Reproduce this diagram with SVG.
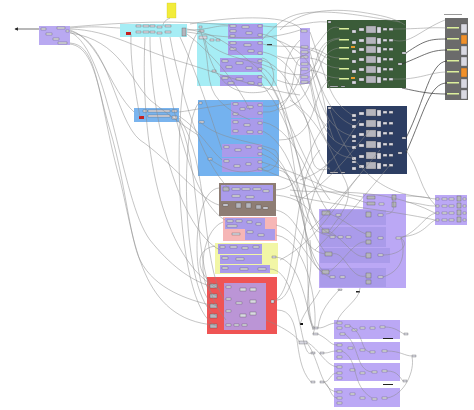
<svg xmlns="http://www.w3.org/2000/svg" width="474" height="410" viewBox="0 0 474 410">
<defs>
<style>
.c{fill:#d9d9e2;stroke:#444;stroke-width:0.3}
.k{fill:#b5b5bd;stroke:#444;stroke-width:0.3}
.w{fill:none;stroke:#8a8a8a;stroke-width:0.5}
.wd{fill:none;stroke:#333;stroke-width:0.7}
.sub{fill:#aa9bea}
.bar{fill:#dcef9c}
</style>
<marker id="ah" viewBox="0 0 6 6" refX="5" refY="3" markerWidth="5" markerHeight="5" orient="auto"><path d="M0,0L6,3L0,6z" fill="#222"/></marker>
</defs>
<rect width="474" height="410" fill="#ffffff"/>

<g id="grp-left"><rect x="39" y="26" width="31" height="19" fill="#b9a9f1"/>
<rect class="c" x="41" y="28" width="5" height="2"/><rect class="c" x="57" y="27" width="8" height="2"/><rect class="c" x="46" y="33" width="6" height="2"/><rect class="c" x="53" y="38" width="6" height="2"/><rect class="c" x="58" y="42" width="9" height="2"/><rect class="c" x="66" y="30" width="3" height="2"/></g>

<g id="grp-cyan-top"><rect x="120" y="24" width="67" height="13" fill="#a6edf5"/>
<rect class="c" x="136" y="25" width="5" height="2"/><rect class="c" x="143" y="25" width="6" height="2"/><rect class="c" x="150" y="25" width="5" height="2"/><rect class="c" x="157" y="26" width="5" height="2"/><rect class="c" x="165" y="25" width="6" height="2"/>
<rect class="c" x="136" y="31" width="5" height="2"/><rect class="c" x="143" y="31" width="6" height="2"/><rect class="c" x="150" y="31" width="5" height="2"/><rect class="c" x="157" y="32" width="5" height="2"/><rect class="c" x="165" y="31" width="6" height="2"/>
<rect class="k" x="182" y="28" width="4" height="8"/><rect x="126" y="32" width="5" height="3" fill="#c42020"/></g>

<g id="note"><rect x="167" y="3" width="9" height="15" fill="#f2ec3a" stroke="#c8c020" stroke-width="0.3"/><path class="w" d="M170,18 C166,20 163,22 163,26"/></g>

<g id="grp-blue-small"><rect x="134" y="108" width="45" height="14" fill="#7ab4ee"/>
<rect class="c" x="143" y="110" width="4" height="2"/><rect class="c" x="148" y="110" width="22" height="2"/><rect class="c" x="148" y="115" width="22" height="2"/><rect class="c" x="172" y="110" width="5" height="2"/><rect class="c" x="172" y="116" width="5" height="3"/><rect x="139" y="116" width="5" height="3" fill="#c42020"/></g>

<g id="grp-cyan-big"><rect x="197" y="23" width="80" height="63" fill="#a6edf5"/>
<rect class="sub" x="228" y="24" width="35" height="15"/><rect class="sub" x="228" y="41" width="35" height="14"/><rect class="sub" x="220" y="58" width="42" height="14"/><rect class="sub" x="220" y="75" width="42" height="11"/>
<rect class="c" x="199" y="26" width="3" height="2"/><rect class="c" x="199" y="30" width="5" height="2"/><rect class="c" x="199" y="36" width="8" height="3"/><rect class="c" x="210" y="39" width="4" height="2"/><rect class="c" x="216" y="39" width="4" height="2"/><rect class="c" x="212" y="70" width="4" height="2"/>
<rect class="c" x="230" y="25" width="6" height="2"/><rect class="c" x="242" y="26" width="7" height="2"/><rect class="c" x="258" y="25" width="4" height="2"/><rect class="c" x="230" y="30" width="6" height="2"/><rect class="c" x="246" y="32" width="6" height="2"/><rect class="c" x="258" y="34" width="4" height="2"/><rect class="c" x="230" y="35" width="5" height="2"/>
<rect class="c" x="230" y="42" width="6" height="2"/><rect class="c" x="244" y="44" width="7" height="2"/><rect class="c" x="258" y="42" width="4" height="2"/><rect class="c" x="230" y="48" width="6" height="2"/><rect class="c" x="248" y="50" width="6" height="2"/><rect class="c" x="258" y="52" width="4" height="2"/>
<rect class="c" x="222" y="60" width="6" height="2"/><rect class="c" x="236" y="62" width="7" height="2"/><rect class="c" x="258" y="60" width="4" height="2"/><rect class="c" x="226" y="66" width="6" height="2"/><rect class="c" x="246" y="67" width="6" height="2"/><rect class="c" x="258" y="68" width="4" height="2"/>
<rect class="c" x="222" y="77" width="6" height="2"/><rect class="c" x="236" y="78" width="7" height="2"/><rect class="c" x="258" y="76" width="4" height="2"/><rect class="c" x="228" y="82" width="6" height="2"/><rect class="c" x="248" y="82" width="6" height="2"/><rect class="c" x="258" y="83" width="4" height="2"/>
<rect x="267" y="44" width="5" height="1.2" fill="#333"/></g>

<g id="col-purple"><rect x="300" y="28" width="10" height="56" fill="#b9a9f1"/>
<rect class="c" x="301" y="30" width="6" height="2"/><rect class="c" x="301" y="46" width="7" height="2"/><rect class="c" x="301" y="51" width="7" height="2"/><rect class="c" x="301" y="56" width="7" height="2"/><rect class="c" x="301" y="63" width="7" height="2"/><rect class="c" x="301" y="68" width="7" height="2"/><rect class="c" x="301" y="76" width="7" height="2"/><rect class="c" x="301" y="81" width="7" height="2"/></g>

<g id="grp-blue-big"><rect x="198" y="100" width="81" height="76" fill="#74b2ef"/>
<rect class="sub" x="231" y="102" width="32" height="16"/><rect class="sub" x="231" y="119" width="32" height="16"/><rect class="sub" x="222" y="144" width="40" height="13"/><rect class="sub" x="222" y="158" width="40" height="14"/>
<rect class="c" x="199" y="102" width="3" height="2"/><rect class="c" x="199" y="121" width="5" height="2"/><rect class="c" x="208" y="158" width="4" height="2"/>
<rect class="c" x="233" y="103" width="5" height="2"/><rect class="c" x="240" y="108" width="5" height="2"/><rect class="c" x="247" y="106" width="6" height="2"/><rect class="c" x="258" y="104" width="4" height="2"/><rect class="c" x="233" y="113" width="5" height="2"/><rect class="c" x="258" y="112" width="4" height="2"/>
<rect class="c" x="233" y="121" width="5" height="2"/><rect class="c" x="244" y="124" width="6" height="2"/><rect class="c" x="258" y="122" width="4" height="2"/><rect class="c" x="233" y="130" width="5" height="2"/><rect class="c" x="247" y="131" width="6" height="2"/><rect class="c" x="258" y="131" width="4" height="2"/>
<rect class="c" x="224" y="146" width="5" height="2"/><rect class="c" x="235" y="149" width="6" height="2"/><rect class="c" x="246" y="146" width="5" height="2"/><rect class="c" x="258" y="147" width="4" height="2"/><rect class="c" x="258" y="153" width="4" height="2"/>
<rect class="c" x="224" y="160" width="5" height="2"/><rect class="c" x="234" y="165" width="6" height="2"/><rect class="c" x="246" y="163" width="5" height="2"/><rect class="c" x="258" y="161" width="4" height="2"/><rect class="c" x="258" y="168" width="4" height="2"/></g>

<g id="grp-brown"><rect x="219" y="183" width="57" height="33" fill="#8e7d74"/>
<rect class="sub" x="221" y="185" width="52" height="16"/>
<rect class="k" x="223" y="187" width="6" height="4"/><rect class="c" x="232" y="188" width="8" height="2"/><rect class="c" x="242" y="188" width="8" height="2"/><rect class="c" x="253" y="188" width="8" height="2"/><rect class="c" x="263" y="190" width="6" height="2"/><rect class="c" x="232" y="195" width="8" height="2"/><rect class="c" x="246" y="196" width="8" height="2"/>
<rect class="k" x="236" y="203" width="5" height="5"/><rect class="k" x="246" y="203" width="5" height="5"/><rect class="k" x="256" y="205" width="5" height="4"/><rect class="c" x="223" y="204" width="5" height="2"/><rect class="c" x="263" y="207" width="5" height="2"/></g>

<g id="grp-pink"><rect x="223" y="217" width="54" height="24" fill="#f6b6b6"/>
<rect class="sub" x="225" y="218" width="40" height="11"/><rect class="sub" x="245" y="229" width="30" height="11"/>
<rect class="c" x="227" y="220" width="6" height="2"/><rect class="c" x="236" y="220" width="6" height="2"/><rect class="c" x="227" y="225" width="10" height="2"/><rect class="c" x="247" y="221" width="5" height="2"/><rect class="c" x="256" y="223" width="5" height="2"/><rect class="c" x="247" y="231" width="6" height="2"/><rect class="c" x="258" y="234" width="6" height="2"/><rect class="c" x="232" y="233" width="8" height="2"/></g>

<g id="grp-yellow"><rect x="215" y="243" width="63" height="31" fill="#f2f6a6"/>
<rect class="sub" x="218" y="244" width="44" height="10"/><rect class="sub" x="220" y="255" width="42" height="9"/><rect class="sub" x="220" y="265" width="50" height="8"/>
<rect class="c" x="220" y="246" width="5" height="2"/><rect class="c" x="230" y="246" width="7" height="2"/><rect class="c" x="242" y="247" width="6" height="2"/><rect class="c" x="253" y="246" width="6" height="2"/><rect class="c" x="222" y="257" width="6" height="2"/><rect class="c" x="236" y="258" width="8" height="2"/><rect class="c" x="222" y="267" width="6" height="2"/><rect class="c" x="240" y="268" width="8" height="2"/><rect class="c" x="258" y="268" width="8" height="2"/><rect class="c" x="272" y="256" width="4" height="2"/></g>

<g id="grp-red"><rect x="207" y="277" width="70" height="57" fill="#ef5454"/>
<rect x="224" y="283" width="42" height="47" fill="#b59ce4" opacity="0.9"/>
<rect class="k" x="210" y="284" width="7" height="4"/><rect class="k" x="210" y="294" width="7" height="4"/><rect class="k" x="210" y="304" width="7" height="4"/><rect class="k" x="210" y="314" width="7" height="4"/><rect class="k" x="210" y="324" width="7" height="4"/>
<rect class="c" x="226" y="286" width="5" height="2"/><rect class="c" x="240" y="288" width="6" height="3"/><rect class="c" x="250" y="288" width="6" height="3"/><rect class="c" x="226" y="298" width="5" height="2"/><rect class="c" x="236" y="302" width="6" height="2"/><rect class="c" x="250" y="300" width="6" height="3"/><rect class="c" x="226" y="310" width="5" height="2"/><rect class="c" x="240" y="314" width="6" height="3"/><rect class="c" x="250" y="312" width="6" height="3"/><rect class="c" x="226" y="324" width="5" height="2"/><rect class="c" x="234" y="324" width="5" height="2"/><rect class="c" x="242" y="324" width="5" height="2"/><rect class="c" x="271" y="300" width="3" height="3"/></g>

<g id="grp-green"><rect x="327" y="20" width="79" height="68" fill="#3b5c39"/>
<rect class="bar" x="339" y="28" width="10" height="1.5"/><rect class="c" x="352" y="30" width="4" height="3"/><rect class="c" x="359" y="28" width="5" height="3"/><rect class="k" x="366" y="26" width="10" height="7"/><rect class="c" x="377" y="27" width="4" height="6"/><rect class="c" x="383" y="28" width="4" height="2.5"/><rect class="c" x="389" y="28" width="4" height="2.5"/>
<rect class="bar" x="339" y="39" width="10" height="1.5"/><rect class="c" x="352" y="41" width="4" height="3"/><rect class="c" x="359" y="39" width="5" height="3"/><rect class="k" x="366" y="37" width="10" height="7"/><rect class="c" x="377" y="38" width="4" height="6"/><rect class="c" x="383" y="39" width="4" height="2.5"/><rect class="c" x="389" y="39" width="4" height="2.5"/>
<rect class="bar" x="339" y="47" width="10" height="1.5"/><rect x="351" y="46" width="4" height="2" fill="#e79a2a"/><rect class="c" x="352" y="50" width="4" height="3"/><rect class="c" x="359" y="48" width="5" height="3"/><rect class="k" x="366" y="46" width="10" height="7"/><rect class="c" x="377" y="47" width="4" height="6"/><rect class="c" x="383" y="48" width="4" height="2.5"/><rect class="c" x="389" y="48" width="4" height="2.5"/>
<rect class="bar" x="339" y="58" width="10" height="1.5"/><rect class="c" x="352" y="60" width="4" height="3"/><rect class="c" x="359" y="58" width="5" height="3"/><rect class="k" x="366" y="56" width="10" height="7"/><rect class="c" x="377" y="57" width="4" height="6"/><rect class="c" x="383" y="58" width="4" height="2.5"/><rect class="c" x="389" y="58" width="4" height="2.5"/>
<rect class="bar" x="339" y="68" width="10" height="1.5"/><rect class="c" x="352" y="70" width="4" height="3"/><rect class="c" x="359" y="68" width="5" height="3"/><rect class="k" x="366" y="66" width="10" height="7"/><rect class="c" x="377" y="67" width="4" height="6"/><rect class="c" x="383" y="68" width="4" height="2.5"/><rect class="c" x="389" y="68" width="4" height="2.5"/>
<rect class="bar" x="339" y="78" width="10" height="1.5"/><rect x="351" y="77" width="4" height="2" fill="#e79a2a"/><rect class="c" x="352" y="81" width="4" height="3"/><rect class="c" x="359" y="78" width="5" height="3"/><rect class="k" x="366" y="76" width="10" height="7"/><rect class="c" x="377" y="77" width="4" height="6"/><rect class="c" x="383" y="78" width="4" height="2.5"/><rect class="c" x="389" y="78" width="4" height="2.5"/>
<rect class="c" x="328" y="21" width="3" height="2"/><rect class="c" x="402" y="52" width="4" height="2"/><rect class="c" x="398" y="63" width="4" height="2"/><rect class="c" x="330" y="86" width="8" height="1"/><rect class="c" x="341" y="86" width="4" height="1"/></g>

<g id="grp-darkblue"><rect x="327" y="106" width="80" height="68" fill="#2d3e63"/>
<rect class="c" x="352" y="114" width="4" height="3"/><rect class="c" x="359" y="112" width="5" height="3"/><rect class="k" x="366" y="109" width="10" height="7"/><rect class="c" x="377" y="110" width="4" height="6"/><rect class="c" x="383" y="111" width="4" height="2.5"/><rect class="c" x="389" y="111" width="4" height="2.5"/>
<rect class="c" x="352" y="125" width="4" height="3"/><rect class="c" x="359" y="123" width="5" height="3"/><rect class="k" x="366" y="120" width="10" height="7"/><rect class="c" x="377" y="121" width="4" height="6"/><rect class="c" x="383" y="122" width="4" height="2.5"/><rect class="c" x="389" y="122" width="4" height="2.5"/>
<rect class="c" x="352" y="135" width="4" height="3"/><rect class="c" x="359" y="133" width="5" height="3"/><rect class="k" x="366" y="130" width="10" height="7"/><rect class="c" x="377" y="131" width="4" height="6"/><rect class="c" x="383" y="132" width="4" height="2.5"/><rect class="c" x="389" y="132" width="4" height="2.5"/>
<rect class="c" x="352" y="146" width="4" height="3"/><rect class="c" x="359" y="144" width="5" height="3"/><rect class="k" x="366" y="141" width="10" height="7"/><rect class="c" x="377" y="142" width="4" height="6"/><rect class="c" x="383" y="143" width="4" height="2.5"/><rect class="c" x="389" y="143" width="4" height="2.5"/>
<rect class="c" x="352" y="157" width="4" height="3"/><rect class="c" x="359" y="155" width="5" height="3"/><rect class="k" x="366" y="152" width="10" height="7"/><rect class="c" x="377" y="153" width="4" height="6"/><rect class="c" x="383" y="154" width="4" height="2.5"/><rect class="c" x="389" y="154" width="4" height="2.5"/>
<rect class="c" x="352" y="167" width="4" height="3"/><rect class="c" x="359" y="165" width="5" height="3"/><rect class="k" x="366" y="162" width="10" height="7"/><rect class="c" x="377" y="163" width="4" height="6"/><rect class="c" x="383" y="164" width="4" height="2.5"/><rect class="c" x="389" y="164" width="4" height="2.5"/>
<rect class="c" x="352" y="119" width="4" height="2"/><rect class="c" x="352" y="140" width="4" height="2"/><rect class="c" x="352" y="161" width="4" height="2"/>
<rect class="c" x="328" y="107" width="3" height="2"/><rect class="c" x="402" y="137" width="4" height="2"/><rect class="c" x="398" y="152" width="4" height="2"/><rect class="c" x="330" y="172" width="8" height="1"/><rect class="c" x="341" y="172" width="4" height="1"/></g>

<g id="panel-gray"><rect x="445" y="18" width="23" height="82" fill="#6b6b6b"/>
<rect x="444" y="14" width="18" height="1" fill="#999"/>
<rect class="bar" x="447" y="27" width="12" height="1.5"/><rect class="c" x="461" y="24" width="6" height="9"/>
<rect class="bar" x="447" y="38" width="12" height="1.5"/><rect x="461" y="35" width="6" height="9" fill="#f0902a" stroke="#444" stroke-width="0.3"/>
<rect class="bar" x="447" y="49" width="12" height="1.5"/><rect class="c" x="461" y="46" width="6" height="9"/>
<rect class="bar" x="447" y="60" width="12" height="1.5"/><rect class="c" x="461" y="57" width="6" height="9"/>
<rect class="bar" x="447" y="71" width="12" height="1.5"/><rect x="461" y="68" width="6" height="9" fill="#f0902a" stroke="#444" stroke-width="0.3"/>
<rect class="bar" x="447" y="82" width="12" height="1.5"/><rect class="c" x="461" y="79" width="6" height="9"/>
<rect class="bar" x="447" y="93" width="12" height="1.5"/><rect class="c" x="461" y="90" width="6" height="9"/></g>

<g id="grp-purple-big"><rect x="319" y="209" width="87" height="79" fill="#bba8f5"/>
<rect class="sub" x="320" y="210" width="66" height="15"/><rect class="sub" x="320" y="227" width="66" height="20"/><rect class="sub" x="320" y="248" width="70" height="15"/><rect class="sub" x="320" y="268" width="66" height="19"/>
<rect class="k" x="322" y="211" width="8" height="4"/><rect class="c" x="336" y="214" width="5" height="2"/><rect class="k" x="366" y="212" width="5" height="5"/><rect class="c" x="378" y="214" width="5" height="2"/>
<rect class="k" x="322" y="229" width="7" height="4"/><rect class="c" x="330" y="236" width="5" height="2"/><rect class="c" x="338" y="236" width="5" height="2"/><rect class="c" x="346" y="236" width="5" height="2"/><rect class="k" x="366" y="232" width="5" height="5"/><rect class="k" x="366" y="240" width="5" height="4"/><rect class="c" x="378" y="237" width="5" height="2"/>
<rect class="k" x="325" y="252" width="7" height="4"/><rect class="k" x="366" y="253" width="5" height="5"/><rect class="c" x="378" y="254" width="5" height="2"/>
<rect class="k" x="322" y="270" width="7" height="4"/><rect class="c" x="330" y="276" width="5" height="2"/><rect class="c" x="340" y="276" width="5" height="2"/><rect class="k" x="366" y="273" width="5" height="5"/><rect class="k" x="366" y="280" width="5" height="4"/><rect class="c" x="378" y="276" width="5" height="2"/>
<rect class="c" x="396" y="237" width="5" height="2"/><rect class="c" x="338" y="289" width="4" height="1.5"/><rect x="356" y="291" width="4" height="1.5" fill="#222"/></g>

<g id="grp-purple-small"><rect x="363" y="194" width="43" height="16" fill="#bba8f5"/>
<rect class="k" x="367" y="196" width="8" height="3"/><rect class="k" x="367" y="202" width="8" height="3"/><rect class="c" x="379" y="203" width="5" height="2"/><rect class="k" x="392" y="195" width="4" height="5"/><rect class="k" x="392" y="202" width="4" height="5"/></g>

<g id="grp-purple-right"><rect x="435" y="195" width="32" height="30" fill="#bba8f5"/>
<rect class="c" x="436" y="198" width="3" height="2"/><rect class="c" x="442" y="198" width="5" height="2"/><rect class="c" x="449" y="198" width="5" height="2"/><rect class="k" x="457" y="196" width="4" height="5"/><rect class="c" x="463" y="198" width="3" height="2"/>
<rect class="c" x="436" y="205" width="3" height="2"/><rect class="c" x="442" y="205" width="5" height="2"/><rect class="c" x="449" y="205" width="5" height="2"/><rect class="k" x="457" y="203" width="4" height="5"/><rect class="c" x="463" y="205" width="3" height="2"/>
<rect class="c" x="436" y="212" width="3" height="2"/><rect class="c" x="442" y="212" width="5" height="2"/><rect class="c" x="449" y="212" width="5" height="2"/><rect class="k" x="457" y="210" width="4" height="5"/><rect class="c" x="463" y="212" width="3" height="2"/>
<rect class="c" x="436" y="219" width="3" height="2"/><rect class="c" x="442" y="219" width="5" height="2"/><rect class="c" x="449" y="219" width="5" height="2"/><rect class="k" x="457" y="217" width="4" height="5"/><rect class="c" x="463" y="219" width="3" height="2"/></g>

<g id="grp-bottom-1"><rect x="334" y="320" width="66" height="19" fill="#bba8f5"/>
<rect class="c" x="337" y="322" width="5" height="2"/><rect class="c" x="337" y="327" width="5" height="2"/><rect class="c" x="345" y="325" width="5" height="2"/><rect class="c" x="352" y="329" width="5" height="2"/><rect class="c" x="360" y="327" width="5" height="2"/><rect class="c" x="370" y="327" width="5" height="2"/><rect class="c" x="380" y="326" width="5" height="2"/><rect class="c" x="340" y="333" width="5" height="2"/></g>
<g id="grp-bottom-2"><rect x="334" y="342" width="66" height="18" fill="#bba8f5"/>
<rect class="c" x="337" y="344" width="5" height="2"/><rect class="c" x="337" y="350" width="5" height="2"/><rect class="c" x="348" y="347" width="5" height="2"/><rect class="c" x="360" y="349" width="5" height="2"/><rect class="c" x="370" y="351" width="5" height="2"/><rect class="c" x="382" y="350" width="5" height="2"/><rect class="c" x="337" y="356" width="5" height="2"/></g>
<g id="grp-bottom-3"><rect x="334" y="363" width="66" height="18" fill="#bba8f5"/>
<rect class="c" x="337" y="366" width="5" height="2"/><rect class="c" x="337" y="372" width="5" height="2"/><rect class="c" x="350" y="369" width="5" height="2"/><rect class="c" x="360" y="372" width="5" height="2"/><rect class="c" x="372" y="371" width="5" height="2"/><rect class="c" x="382" y="370" width="5" height="2"/><rect class="c" x="337" y="377" width="5" height="2"/></g>
<g id="grp-bottom-4"><rect x="334" y="388" width="66" height="19" fill="#bba8f5"/>
<rect class="c" x="337" y="391" width="5" height="2"/><rect class="c" x="337" y="397" width="5" height="2"/><rect class="c" x="350" y="393" width="5" height="2"/><rect class="c" x="360" y="397" width="5" height="2"/><rect class="c" x="372" y="398" width="5" height="2"/><rect class="c" x="382" y="397" width="5" height="2"/><rect class="c" x="337" y="402" width="5" height="2"/></g>

<g id="loose">
<rect x="300" y="323" width="3" height="2" fill="#111"/>
<rect class="c" x="313" y="327" width="5" height="2"/><rect class="c" x="313" y="333" width="5" height="2"/><rect class="c" x="299" y="341" width="8" height="3"/><rect class="c" x="311" y="352" width="4" height="2"/><rect class="c" x="320" y="352" width="4" height="2"/><rect class="c" x="311" y="381" width="4" height="2"/><rect class="c" x="320" y="381" width="4" height="2"/>
<rect class="c" x="404" y="333" width="4" height="2"/><rect class="c" x="412" y="355" width="4" height="2"/><rect class="c" x="403" y="380" width="4" height="2"/><rect x="383" y="338" width="10" height="1" fill="#222"/><rect x="383" y="384" width="10" height="1" fill="#222"/>
</g>

<g id="connectors">
<path class="wd" d="M39,29 L15,29" marker-end="url(#ah)"/>
<path class="w" d="M70,28 C95,26 100,27 120,28"/>
<path class="w" d="M70,29 C110,30 140,50 175,60 C210,70 260,90 300,95"/>
<path class="w" d="M70,30 C100,40 110,90 134,112"/>
<path class="w" d="M70,31 C110,40 115,120 140,140 C170,160 200,200 219,205"/>
<path class="w" d="M70,32 C110,50 120,200 150,240 C170,265 190,280 210,286"/>
<path class="w" d="M70,33 C120,40 130,80 150,100 C175,120 190,130 198,135"/>
<path class="w" d="M70,43 C95,45 95,80 110,130 C125,180 130,240 140,260 C155,290 190,300 210,305"/>
<path class="w" d="M70,44 C100,48 100,110 120,180 C135,240 140,320 215,325"/>
<path class="w" d="M70,27 C130,22 170,20 230,25"/>
<path class="w" d="M131,34 C130,60 135,90 140,117"/>
<path class="w" d="M187,29 C220,35 230,45 260,70 C280,90 300,160 330,200"/>
<path class="w" d="M187,30 C210,30 215,25 228,26"/>
<path class="w" d="M187,32 C240,40 270,40 300,30"/>
<path class="w" d="M187,34 C220,60 240,90 250,110"/>
<path class="w" d="M180,37 C200,80 215,130 222,150"/>
<path class="w" d="M170,37 C180,90 200,160 230,190"/>
<path class="w" d="M160,37 C170,100 190,200 225,220"/>
<path class="w" d="M150,37 C150,120 180,230 220,250"/>
<path class="w" d="M145,37 C140,140 160,260 220,290"/>
<path class="w" d="M179,112 C195,110 200,108 231,104"/>
<path class="w" d="M179,116 C200,130 210,150 222,160"/>
<path class="w" d="M179,118 C210,160 200,260 224,300"/>
<path class="w" d="M179,120 C205,180 190,280 226,320"/>
<path class="w" d="M200,30 C210,50 205,80 215,95 C225,110 240,115 250,120"/>
<path class="w" d="M203,38 C220,60 260,60 275,70"/>
<path class="w" d="M205,40 C215,90 240,95 262,92 C280,90 275,60 262,58"/>
<path class="w" d="M200,122 C220,140 250,140 275,150 C285,160 270,175 262,170"/>
<path class="w" d="M210,159 C230,175 250,175 270,165"/>
<path class="w" d="M263,26 C290,30 310,20 327,22"/>
<path class="w" d="M262,34 C290,40 290,60 300,66"/>
<path class="w" d="M262,44 C290,50 300,40 330,60"/>
<path class="w" d="M263,52 C300,60 300,100 330,130"/>
<path class="w" d="M262,60 C300,70 310,150 330,170"/>
<path class="w" d="M262,68 C290,80 300,200 320,230"/>
<path class="w" d="M262,76 C300,100 290,230 322,270"/>
<path class="w" d="M262,84 C290,120 300,160 310,210"/>
<path class="w" d="M277,40 C330,60 320,110 334,140"/>
<path class="w" d="M277,56 C320,70 320,20 340,28"/>
<path class="w" d="M277,70 C330,90 310,40 340,39"/>
<path class="w" d="M277,80 C330,100 310,50 340,48"/>
<path class="w" d="M310,48 C325,50 325,58 340,58"/>
<path class="w" d="M310,58 C325,60 325,68 340,68"/>
<path class="w" d="M310,70 C325,72 325,78 340,78"/>
<path class="w" d="M310,32 C330,90 330,100 352,115"/>
<path class="w" d="M310,52 C320,90 330,115 352,125"/>
<path class="w" d="M310,64 C320,110 330,130 352,136"/>
<path class="w" d="M310,76 C320,130 330,145 352,147"/>
<path class="w" d="M310,82 C320,140 330,155 352,158"/>
<path class="w" d="M300,40 C280,60 280,90 300,110 C320,130 300,180 330,168"/>
<path class="w" d="M263,106 C290,110 300,80 301,70"/>
<path class="w" d="M263,112 C300,115 290,60 301,58"/>
<path class="w" d="M263,122 C300,130 310,190 330,214"/>
<path class="w" d="M263,131 C300,150 300,220 325,252"/>
<path class="w" d="M262,148 C300,160 290,230 330,236"/>
<path class="w" d="M262,154 C310,170 300,260 322,272"/>
<path class="w" d="M262,162 C320,180 320,190 363,197"/>
<path class="w" d="M262,169 C310,190 330,190 367,203"/>
<path class="w" d="M279,110 C330,100 300,40 340,38"/>
<path class="w" d="M279,140 C320,140 310,90 330,80"/>
<path class="w" d="M279,170 C320,180 300,320 315,328"/>
<path class="w" d="M273,190 C310,190 300,150 330,120"/>
<path class="w" d="M276,195 C320,200 310,230 336,236"/>
<path class="w" d="M276,210 C300,215 300,250 325,254"/>
<path class="w" d="M276,225 C300,230 310,270 330,277"/>
<path class="w" d="M276,235 C310,240 320,320 313,334"/>
<path class="w" d="M276,257 C300,260 305,300 313,330"/>
<path class="w" d="M270,269 C300,270 300,360 311,353"/>
<path class="w" d="M277,300 C300,300 300,200 330,160"/>
<path class="w" d="M277,310 C305,310 290,360 311,382"/>
<path class="w" d="M266,320 C290,330 300,340 299,342"/>
<path class="w" d="M274,301 C300,290 290,180 320,150"/>
<path class="w" d="M217,286 C200,280 190,250 215,246"/>
<path class="w" d="M217,296 C195,290 200,230 223,222"/>
<path class="w" d="M217,306 C190,300 190,190 219,188"/>
<path class="w" d="M217,316 C180,300 180,120 199,103"/>
<path class="w" d="M217,326 C170,310 170,60 199,31"/>
<path class="w" d="M290,100 C320,120 330,150 345,180 C355,200 340,215 330,230"/>
<path class="w" d="M300,180 C330,170 340,150 360,120"/>
<path class="w" d="M300,200 C330,180 345,160 370,130"/>
<path class="w" d="M310,230 C340,200 355,180 380,150"/>
<path class="w" d="M315,250 C345,220 365,195 390,165"/>
<path class="w" d="M280,260 C320,240 345,190 360,175"/>
<path class="w" d="M330,110 C340,140 350,160 375,180 C390,190 400,195 430,198"/>
<path class="w" d="M290,190 C330,195 380,185 435,213"/>
<path class="w" d="M290,195 C330,205 390,210 435,220"/>
<path class="w" d="M406,150 C420,170 420,190 436,206"/>
<path class="w" d="M280,30 C300,10 330,8 360,12 C380,15 395,18 405,25"/>
<path class="w" d="M393,29 C420,29 430,27 447,28"/>
<path class="wd" d="M406,53 C425,40 430,39 447,39"/>
<path class="wd" d="M402,64 C425,55 430,50 447,50"/>
<path class="wd" d="M406,138 C425,100 430,62 447,61"/>
<path class="w" d="M393,79 C420,80 430,72 447,72"/>
<path class="wd" d="M406,153 C425,110 430,83 447,83"/>
<path class="wd" d="M402,88 C420,92 430,94 447,94"/>
<path class="w" d="M393,40 C410,45 420,30 445,20"/>
<path class="w" d="M406,196 C425,196 425,198 436,199"/>
<path class="w" d="M406,202 C425,204 425,206 436,206"/>
<path class="w" d="M401,238 C420,230 425,215 436,213"/>
<path class="w" d="M401,237 C425,235 428,222 436,220"/>
<path class="w" d="M386,214 C395,214 395,205 392,198"/>
<path class="w" d="M383,255 C400,255 410,245 401,238"/>
<path class="w" d="M383,277 C405,270 405,250 401,238"/>
<path class="w" d="M330,214 C345,220 355,230 366,234"/>
<path class="w" d="M329,231 C345,240 355,260 366,256"/>
<path class="w" d="M332,254 C345,250 350,280 366,276"/>
<path class="w" d="M329,272 C345,260 355,240 366,242"/>
<path class="w" d="M318,328 C326,328 328,323 337,323"/>
<path class="w" d="M318,334 C330,340 330,345 337,345"/>
<path class="w" d="M307,342 C320,350 325,365 337,367"/>
<path class="w" d="M307,343 C320,360 320,390 337,392"/>
<path class="w" d="M324,353 C330,353 330,351 337,351"/>
<path class="w" d="M324,382 C330,382 330,373 337,373"/>
<path class="w" d="M324,382 C330,385 330,397 337,398"/>
<path class="w" d="M385,327 C395,327 400,332 404,334"/>
<path class="w" d="M387,351 C400,351 405,356 412,356"/>
<path class="w" d="M387,371 C398,371 400,378 403,381"/>
<path class="w" d="M387,398 C405,395 415,370 412,357"/>
<path class="w" d="M345,334 C360,345 355,370 372,372"/>
<path class="w" d="M342,351 C360,360 350,385 372,398"/>
<path class="w" d="M350,326 C365,335 360,350 370,352"/>
<path class="w" d="M310,240 C315,280 300,300 313,328"/>
<path class="w" d="M360,288 C360,300 340,310 337,322"/>
<path class="w" d="M340,289 C330,300 320,310 318,328"/>
<path class="w" d="M302,30 C290,15 240,15 190,24"/>
<path class="w" d="M262,40 C280,20 290,12 320,12 C340,12 360,15 400,22"/>
<path class="w" d="M320,290 C315,300 305,310 300,324"/>
</g>
</svg>
